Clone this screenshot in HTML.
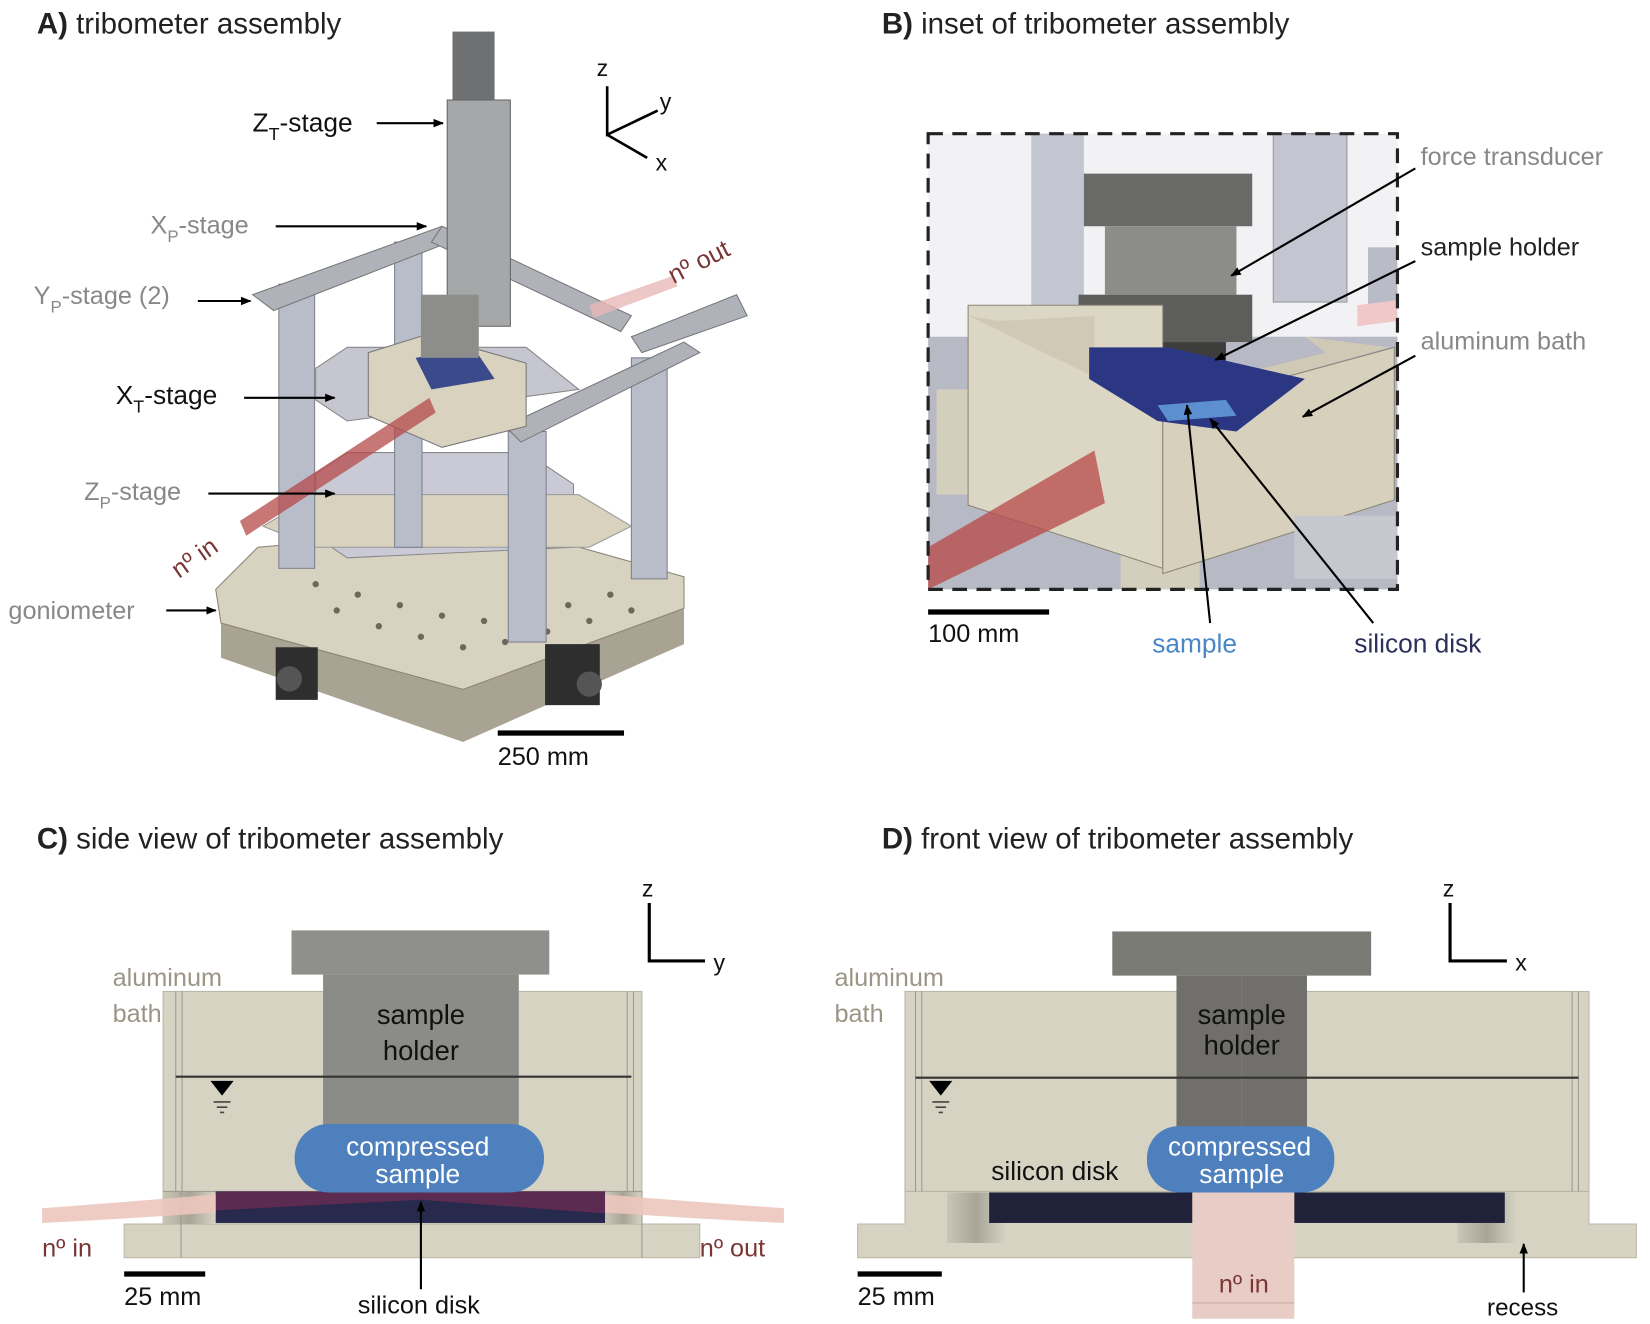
<!DOCTYPE html>
<html><head><meta charset="utf-8"><style>
html,body{margin:0;padding:0;background:#fff}
svg{display:block}
text{font-family:"Liberation Sans",sans-serif}
</style></head><body>
<svg width="1650" height="1324" viewBox="0 0 1568 1258" preserveAspectRatio="none" xmlns="http://www.w3.org/2000/svg">
<defs>
<marker id="ah" markerWidth="10" markerHeight="10" refX="9" refY="5" orient="auto" markerUnits="userSpaceOnUse"><path d="M0,1 L10,5 L0,9 z" fill="#000"/></marker>
<linearGradient id="corner" x1="0" x2="1"><stop offset="0" stop-color="#c9c6b6"/><stop offset="0.5" stop-color="#a8a598"/><stop offset="1" stop-color="#d6d3c3"/></linearGradient>
</defs>

<text x="35" y="32" font-size="28" fill="#222"><tspan font-weight="bold">A)</tspan> tribometer assembly</text>
<text x="838" y="32" font-size="28" fill="#222"><tspan font-weight="bold">B)</tspan> inset of tribometer assembly</text>
<text x="35" y="806" font-size="28" fill="#222"><tspan font-weight="bold">C)</tspan> side view of tribometer assembly</text>
<text x="838" y="806" font-size="28" fill="#222"><tspan font-weight="bold">D)</tspan> front view of tribometer assembly</text>

<!-- ===== Panel A ===== -->
<g>
<polygon points="210,590 440,655 650,578 650,612 440,705 210,625" fill="#a9a394"/>
<polygon points="205,560 245,520 480,500 650,548 650,578 440,655 210,592" fill="#d8d2c0" stroke="#8a8474"/>
<g fill="#6d675c">
<circle cx="300" cy="555" r="3"/><circle cx="340" cy="565" r="3"/><circle cx="380" cy="575" r="3"/><circle cx="420" cy="585" r="3"/><circle cx="460" cy="590" r="3"/><circle cx="500" cy="585" r="3"/><circle cx="540" cy="575" r="3"/><circle cx="580" cy="565" r="3"/>
<circle cx="320" cy="580" r="3"/><circle cx="360" cy="595" r="3"/><circle cx="400" cy="605" r="3"/><circle cx="440" cy="615" r="3"/><circle cx="480" cy="610" r="3"/><circle cx="520" cy="600" r="3"/><circle cx="560" cy="590" r="3"/><circle cx="600" cy="580" r="3"/>
</g>
<rect x="262" y="615" width="40" height="50" fill="#2e2e2e"/>
<rect x="518" y="612" width="52" height="58" fill="#2e2e2e"/>
<circle cx="275" cy="645" r="12" fill="#555"/><circle cx="560" cy="650" r="12" fill="#555"/>
<polygon points="300,450 330,430 500,430 545,460 545,520 330,530 300,510" fill="#c9cad6" stroke="#888"/>
<polygon points="250,500 300,470 550,470 600,500 560,520 300,520" fill="#d8d2bf" stroke="#999"/>
<rect x="265" y="270" width="34" height="270" fill="#b9bdc9" stroke="#7c808c"/>
<rect x="375" y="230" width="26" height="290" fill="#b9bdc9" stroke="#7c808c"/>
<rect x="600" y="340" width="34" height="210" fill="#b9bdc9" stroke="#7c808c"/>
<rect x="483" y="410" width="36" height="200" fill="#b9bdc9" stroke="#7c808c"/>
<polygon points="240,280 420,215 440,225 260,295" fill="#b0b2ba" stroke="#777"/>
<polygon points="420,215 600,300 590,315 410,230" fill="#b0b2ba" stroke="#777"/>
<polygon points="480,405 650,325 665,335 495,420" fill="#b0b2ba" stroke="#777"/>
<polygon points="600,320 700,280 710,300 610,335" fill="#b0b2ba" stroke="#777"/>
<polygon points="300,350 330,330 500,330 550,370 330,400 300,380" fill="#c5c6d0" stroke="#888"/>
<polygon points="350,335 405,318 500,345 500,405 420,425 350,395" fill="#d8d2bf" stroke="#777"/>
<polygon points="395,340 450,330 470,360 410,370" fill="#3b4a8a"/>
<rect x="430" y="30" width="40" height="70" fill="#6f7072"/>
<rect x="425" y="95" width="60" height="215" fill="#a6a7a8" stroke="#666"/>
<rect x="400" y="280" width="55" height="60" fill="#8d8d8c"/>
<polygon points="228,495 408,378 414,392 234,509" fill="#b54a4a" opacity="0.75"/>
<polygon points="560,290 640,262 644,272 564,302" fill="#e8b8b8" opacity="0.8"/>
</g>
<text x="240" y="125" font-size="25" fill="#111">Z<tspan font-size="17" dy="8">T</tspan><tspan dy="-8">-stage</tspan></text>
<line x1="358" y1="117" x2="421" y2="117" stroke="#000" stroke-width="2" marker-end="url(#ah)"/>
<text x="143" y="222" font-size="24" fill="#888">X<tspan font-size="16" dy="8">P</tspan><tspan dy="-8">-stage</tspan></text>
<line x1="262" y1="215" x2="405" y2="215" stroke="#000" stroke-width="2" marker-end="url(#ah)"/>
<text x="32" y="289" font-size="24" fill="#888">Y<tspan font-size="16" dy="8">P</tspan><tspan dy="-8">-stage (2)</tspan></text>
<line x1="188" y1="286" x2="238" y2="286" stroke="#000" stroke-width="2" marker-end="url(#ah)"/>
<text x="110" y="384" font-size="25" fill="#111">X<tspan font-size="17" dy="8">T</tspan><tspan dy="-8">-stage</tspan></text>
<line x1="232" y1="378" x2="318" y2="378" stroke="#000" stroke-width="2" marker-end="url(#ah)"/>
<text x="80" y="475" font-size="24" fill="#888">Z<tspan font-size="16" dy="8">P</tspan><tspan dy="-8">-stage</tspan></text>
<line x1="198" y1="469" x2="318" y2="469" stroke="#000" stroke-width="2" marker-end="url(#ah)"/>
<text x="8" y="588" font-size="24" fill="#888">goniometer</text>
<line x1="158" y1="580" x2="205" y2="580" stroke="#000" stroke-width="2" marker-end="url(#ah)"/>
<text x="0" y="0" font-size="24" fill="#7a3535" transform="translate(640,270) rotate(-27)">nº out</text>
<text x="0" y="0" font-size="24" fill="#7a3535" transform="translate(170,550) rotate(-35)">nº in</text>
<rect x="473" y="694" width="120" height="5" fill="#000"/>
<text x="473" y="727" font-size="24" fill="#111">250 mm</text>
<text x="567" y="72" font-size="22" fill="#111">z</text>
<path d="M577,82 V128 L625,105 M577,128 L615,150" stroke="#000" stroke-width="2.5" fill="none"/>
<text x="627" y="104" font-size="22" fill="#111">y</text>
<text x="623" y="162" font-size="22" fill="#111">x</text>

<!-- ===== Panel B ===== -->
<g>
<rect x="882" y="127" width="446" height="433" fill="#f2f2f4"/>
<rect x="980" y="127" width="50" height="190" fill="#c3c6d0"/>
<rect x="1210" y="127" width="70" height="160" fill="#c3c6d0" stroke="#999"/>
<rect x="1300" y="235" width="28" height="60" fill="#b9bcc6"/>
<polygon points="882,320 1328,320 1328,560 882,560" fill="#b7b9c4"/>
<polygon points="890,370 960,370 960,470 890,470" fill="#d4cfbd"/>
<polygon points="1065,490 1140,490 1140,560 1065,560" fill="#d4cfbd"/>
<polygon points="1030,165 1190,165 1190,215 1030,215" fill="#6a6a68"/>
<rect x="1050" y="215" width="125" height="65" fill="#8c8c89"/>
<rect x="1025" y="280" width="165" height="45" fill="#5d5d5b"/>
<rect x="1050" y="325" width="115" height="50" fill="#3d3d3c"/>
<polygon points="920,290 1105,290 1105,540 920,480" fill="#dcd6c4" stroke="#8c8676"/>
<polygon points="1105,390 1325,330 1325,475 1105,545" fill="#d6d0bd" stroke="#8c8676"/>
<polygon points="950,305 1040,300 1040,355 1100,375 1260,335 1240,320 1320,330 1105,390 920,300" fill="#cfc9b6"/>
<polygon points="1035,330 1110,330 1240,360 1175,410 1100,400 1035,360" fill="#2c3784"/>
<polygon points="1100,385 1165,380 1175,395 1110,400" fill="#5b8fd0"/>
<polygon points="882,520 1040,428 1050,478 882,560" fill="#b84848" opacity="0.75"/>
<polygon points="1290,290 1328,285 1328,305 1290,310" fill="#f0c8c8"/>
<rect x="1230" y="490" width="98" height="60" fill="#c7c8cf"/>
<rect x="882" y="127" width="446" height="433" fill="none" stroke="#222" stroke-width="3" stroke-dasharray="14,9"/>
</g>
<text x="1350" y="157" font-size="24" fill="#888">force transducer</text>
<line x1="1345" y1="160" x2="1170" y2="262" stroke="#000" stroke-width="2" marker-end="url(#ah)"/>
<text x="1350" y="243" font-size="24" fill="#222">sample holder</text>
<line x1="1345" y1="248" x2="1155" y2="342" stroke="#000" stroke-width="2" marker-end="url(#ah)"/>
<text x="1350" y="332" font-size="24" fill="#888">aluminum bath</text>
<line x1="1345" y1="338" x2="1238" y2="396" stroke="#000" stroke-width="2" marker-end="url(#ah)"/>
<line x1="1150" y1="592" x2="1128" y2="385" stroke="#000" stroke-width="2" marker-end="url(#ah)"/>
<line x1="1305" y1="592" x2="1150" y2="398" stroke="#000" stroke-width="2" marker-end="url(#ah)"/>
<rect x="882" y="579" width="115" height="5" fill="#000"/>
<text x="882" y="610" font-size="24" fill="#111">100 mm</text>
<text x="1095" y="620" font-size="25" fill="#4a86c8">sample</text>
<text x="1287" y="620" font-size="25" fill="#2b2f5a">silicon disk</text>

<!-- ===== Panel C ===== -->
<rect x="118" y="1163" width="547" height="32" fill="#d6d3c3" stroke="#bbb8a8"/>
<rect x="155" y="942" width="455" height="221" fill="#d6d3c3" stroke="#b9b6a6"/>
<rect x="155" y="1132" width="50" height="31" fill="url(#corner)"/>
<rect x="575" y="1132" width="35" height="31" fill="url(#corner)"/>
<line x1="167" y1="942" x2="167" y2="1132" stroke="#9c9a8c"/>
<line x1="173" y1="942" x2="173" y2="1132" stroke="#9c9a8c"/>
<line x1="596" y1="942" x2="596" y2="1132" stroke="#9c9a8c"/>
<line x1="602" y1="942" x2="602" y2="1132" stroke="#9c9a8c"/>
<line x1="155" y1="1132" x2="610" y2="1132" stroke="#9c9a8c"/>
<line x1="172" y1="1132" x2="172" y2="1195" stroke="#9c9a8c"/>
<line x1="610" y1="1132" x2="610" y2="1195" stroke="#9c9a8c"/>
<rect x="277" y="884" width="245" height="42" fill="#8f8f8b"/>
<rect x="307" y="926" width="186" height="146" fill="#8b8b88"/>
<line x1="167" y1="1023" x2="600" y2="1023" stroke="#333" stroke-width="2"/>
<polygon points="200,1027 222,1027 211,1041" fill="#000"/>
<path d="M203,1047h16M206,1052h10M209,1057h4" stroke="#444" stroke-width="1.5"/>
<rect x="205" y="1132" width="370" height="30" fill="#272a4c"/>
<polygon points="205,1132 575,1132 575,1153 400,1140 205,1150" fill="#6a2c52" opacity="0.8"/>
<path d="M40,1148 Q120,1142 205,1135 L205,1152 Q120,1158 40,1162 z" fill="#ecc6be" opacity="0.9"/>
<path d="M575,1135 Q660,1142 745,1148 L745,1162 Q660,1158 575,1152 z" fill="#ecc6be" opacity="0.9"/>
<rect x="280" y="1068" width="237" height="65" rx="32" fill="#4f80be"/>
<text x="400" y="973" font-size="26" fill="#111" text-anchor="middle">sample</text>
<text x="400" y="1007" font-size="26" fill="#111" text-anchor="middle">holder</text>
<text x="397" y="1098" font-size="25" fill="#fff" text-anchor="middle">compressed</text>
<text x="397" y="1124" font-size="25" fill="#fff" text-anchor="middle">sample</text>
<text x="107" y="937" font-size="24" fill="#9a9585">aluminum</text>
<text x="107" y="971" font-size="24" fill="#9a9585">bath</text>
<text x="40" y="1194" font-size="24" fill="#7a3535">nº in</text>
<text x="665" y="1194" font-size="24" fill="#7a3535">nº out</text>
<rect x="118" y="1208" width="77" height="5" fill="#000"/>
<text x="118" y="1240" font-size="24" fill="#111">25 mm</text>
<text x="398" y="1248" font-size="24" fill="#111" text-anchor="middle">silicon disk</text>
<line x1="400" y1="1225" x2="400" y2="1142" stroke="#000" stroke-width="2" marker-end="url(#ah)"/>
<text x="610" y="852" font-size="22" fill="#111">z</text>
<path d="M617,858 V913 H670" stroke="#000" stroke-width="3" fill="none"/>
<text x="678" y="922" font-size="22" fill="#111">y</text>

<!-- ===== Panel D ===== -->
<polygon points="860,1132 860,1163 815,1163 815,1195 1555,1195 1555,1163 1510,1163 1510,1132" fill="#d6d3c3" stroke="#bbb8a8"/>
<rect x="860" y="942" width="650" height="190" fill="#d6d3c3" stroke="#b9b6a6"/>
<line x1="870" y1="942" x2="870" y2="1132" stroke="#9c9a8c"/>
<line x1="876" y1="942" x2="876" y2="1132" stroke="#9c9a8c"/>
<line x1="1494" y1="942" x2="1494" y2="1132" stroke="#9c9a8c"/>
<line x1="1500" y1="942" x2="1500" y2="1132" stroke="#9c9a8c"/>
<rect x="900" y="1133" width="56" height="48" fill="url(#corner)"/>
<rect x="1385" y="1133" width="56" height="48" fill="url(#corner)"/>
<rect x="1057" y="885" width="246" height="42" fill="#7b7b76"/>
<rect x="1118" y="927" width="124" height="148" fill="#706f6b"/>
<line x1="1180" y1="927" x2="1180" y2="1075" stroke="#7a7975"/>
<line x1="870" y1="1024" x2="1500" y2="1024" stroke="#333" stroke-width="2"/>
<polygon points="883,1027 905,1027 894,1041" fill="#000"/>
<path d="M886,1047h16M889,1052h10M892,1057h4" stroke="#444" stroke-width="1.5"/>
<rect x="940" y="1133" width="490" height="29" fill="#1f2239"/>
<rect x="1133" y="1133" width="97" height="120" fill="#e8cdc6"/>
<line x1="1133" y1="1238" x2="1230" y2="1238" stroke="#c9aaa2"/>
<rect x="1090" y="1070" width="178" height="63" rx="30" fill="#4f80be"/>
<text x="1180" y="973" font-size="26" fill="#111" text-anchor="middle">sample</text>
<text x="1180" y="1002" font-size="26" fill="#111" text-anchor="middle">holder</text>
<text x="1178" y="1098" font-size="25" fill="#fff" text-anchor="middle">compressed</text>
<text x="1180" y="1124" font-size="25" fill="#fff" text-anchor="middle">sample</text>
<text x="942" y="1121" font-size="25" fill="#111">silicon disk</text>
<text x="793" y="937" font-size="24" fill="#9a9585">aluminum</text>
<text x="793" y="971" font-size="24" fill="#9a9585">bath</text>
<text x="1182" y="1228" font-size="24" fill="#7a3535" text-anchor="middle">nº in</text>
<rect x="815" y="1208" width="80" height="5" fill="#000"/>
<text x="815" y="1240" font-size="24" fill="#111">25 mm</text>
<text x="1447" y="1250" font-size="23" fill="#111" text-anchor="middle">recess</text>
<line x1="1448" y1="1228" x2="1448" y2="1182" stroke="#000" stroke-width="2" marker-end="url(#ah)"/>
<text x="1371" y="852" font-size="22" fill="#111">z</text>
<path d="M1378,858 V913 H1432" stroke="#000" stroke-width="3" fill="none"/>
<text x="1440" y="922" font-size="22" fill="#111">x</text>
</svg>
</body></html>
